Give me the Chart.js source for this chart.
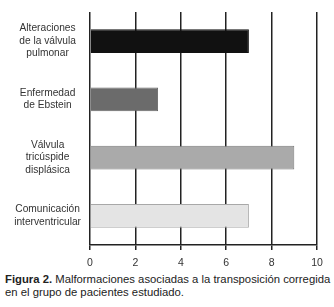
<!DOCTYPE html>
<html>
<head>
<meta charset="utf-8">
<script src="https://cdn.jsdelivr.net/npm/chart.js@4/dist/chart.umd.min.js"></script>
<style>
  html, body { margin: 0; padding: 0; background: #fff; }
  #wrap { position: relative; width: 334px; height: 270px; }
  #caption {
    position: absolute; left: 5px; top: 273px; width: 330px;
    font-family: "Liberation Sans", Arial, sans-serif; font-size: 11.3px;
    line-height: 13px; color: #222;
  }
</style>
</head>
<body>
<div id="wrap"><canvas id="chart"></canvas></div>
<div id="caption"><b>Figura 2.</b> Malformaciones asociadas a la transposición corregida en el grupo de pacientes estudiado.</div>
<script>
// data
const categories = [
  ["Alteraciones", "de la válvula", "pulmonar"],
  ["Enfermedad", "de Ebstein"],
  ["Válvula", "tricúspide", "displásica"],
  ["Comunicación", "interventricular"]
];
const values = [7, 3, 9, 7];
const barColors = ["#111111", "#6b6b6b", "#aaaaaa", "#e4e4e4"];
const borderColors = ["#111111", "#666666", "#7a7a7a", "#a8a8a8"];
const xTicks = [0, 2, 4, 6, 8, 10];

const ctx = document.getElementById("chart").getContext("2d");
new Chart(ctx, {
  type: "bar",
  data: {
    labels: categories,
    datasets: [{
      data: values,
      backgroundColor: barColors,
      borderColor: borderColors,
      borderWidth: 1,
      barPercentage: 0.41,
      categoryPercentage: 1
    }]
  },
  options: {
    indexAxis: "y",
    responsive: true,
    maintainAspectRatio: false,
    animation: false,
    layout: { padding: { top: 12, right: 17, left: 0, bottom: 0 } },
    plugins: { legend: { display: false }, tooltip: { enabled: false } },
    scales: {
      x: {
        min: 0,
        max: 10,
        afterBuildTicks: function (axis) {
          axis.ticks = xTicks.map(v => ({ value: v }));
        },
        afterFit: function (axis) { axis.height = 25; },
        grid: { color: "#222", lineWidth: 1.5, tickLength: 5 },
        border: { color: "#222", width: 1.5 },
        ticks: {
          color: "#333",
          padding: 7,
          font: { family: "Liberation Sans", size: 10.5 }
        }
      },
      y: {
        afterFit: function (axis) {
          axis.width = 90;
          axis.paddingTop = 0;
          axis.paddingBottom = 0;
        },
        grid: { display: false, drawTicks: false },
        border: { display: false },
        ticks: {
          color: "#333",
          crossAlign: "center",
          padding: 9,
          font: { family: "Liberation Sans", size: 10.2, lineHeight: 1.23 }
        }
      }
    }
  }
});
</script>
</body>
</html>
